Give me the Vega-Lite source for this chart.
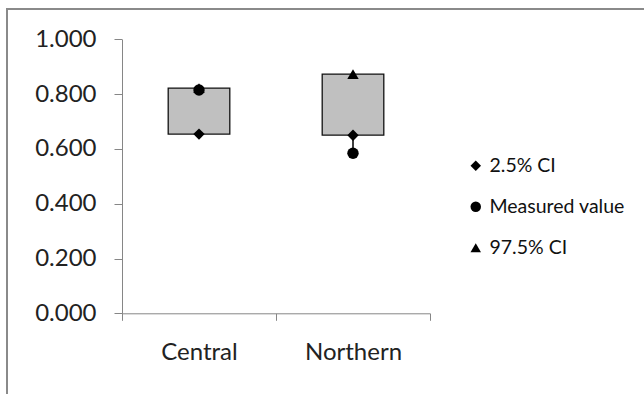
{
  "$schema": "https://vega.github.io/schema/vega-lite/v6.json",
  "autosize": "none",
  "width": 640,
  "height": 390,
  "padding": {"left": 7, "top": 9, "right": 0, "bottom": 0},
  "background": "white",
  "config": {
    "view": {"stroke": "#8a8a8a", "strokeWidth": 2},
    "font": "Lato"
  },
  "data": {
    "values": [
      {"region": "Central", "low": 0.654, "measured": 0.815, "high": 0.822},
      {"region": "Northern", "low": 0.650, "measured": 0.584, "high": 0.873}
    ]
  },
  "encoding": {
    "x": {
      "field": "region",
      "type": "nominal",
      "sort": ["Central", "Northern"],
      "scale": {"type": "band", "range": [115, 423], "paddingInner": 0, "paddingOuter": 0},
      "axis": {
        "title": null,
        "offset": -85.7,
        "tickBand": "extent",
        "tickSize": 7,
        "tickColor": "#868686",
        "domainColor": "#868686",
        "labelFont": "Lato",
        "labelFontSize": 24,
        "labelColor": "#222",
        "labelPadding": 20,
        "labelAngle": 0
      }
    }
  },
  "layer": [
    {
      "transform": [{"fold": ["low", "measured", "high"], "as": ["series", "value"]}],
      "mark": {"type": "rule", "color": "black", "strokeWidth": 1.5},
      "encoding": {
        "y": {"aggregate": "min", "field": "value", "type": "quantitative", "scale": {"domain": [0, 1], "range": [304.3, 30.3], "nice": false, "zero": false}},
        "y2": {"aggregate": "max", "field": "value"}
      }
    },
    {
      "mark": {"type": "bar", "fill": "#c0c0c0", "stroke": "#111", "strokeWidth": 1.3, "width": {"band": 0.4}},
      "encoding": {
        "y": {"field": "low", "type": "quantitative"},
        "y2": {"field": "high"}
      }
    },
    {
      "transform": [{"fold": ["low", "measured", "high"], "as": ["series", "value"]}],
      "mark": {"type": "point", "filled": true, "color": "black", "opacity": 1},
      "encoding": {
        "y": {
          "field": "value",
          "type": "quantitative",
          "axis": {
            "title": null,
            "offset": -115,
            "values": [0, 0.2, 0.4, 0.6, 0.8, 1.0],
            "format": ".3f",
            "grid": false,
            "tickSize": 8,
            "tickColor": "#868686",
            "domainColor": "#868686",
            "labelFont": "Lato",
            "labelFontSize": 24,
            "labelColor": "#222",
            "labelPadding": 18
          }
        },
        "shape": {
          "field": "series",
          "type": "nominal",
          "scale": {"domain": ["low", "measured", "high"], "range": ["diamond", "circle", "triangle-up"]},
          "legend": {
            "title": null,
            "orient": "none",
            "legendX": 459,
            "legendY": 147,
            "labelExpr": "datum.label == 'low' ? '2.5% CI' : datum.label == 'measured' ? 'Measured value' : '97.5% CI'",
            "labelFont": "Lato",
            "labelFontSize": 19.5,
            "labelColor": "#111",
            "symbolSize": 110,
            "symbolFillColor": "black",
            "symbolStrokeWidth": 0,
            "labelOffset": 4,
            "rowPadding": 20
          }
        },
        "size": {"value": 130}
      }
    }
  ]
}
